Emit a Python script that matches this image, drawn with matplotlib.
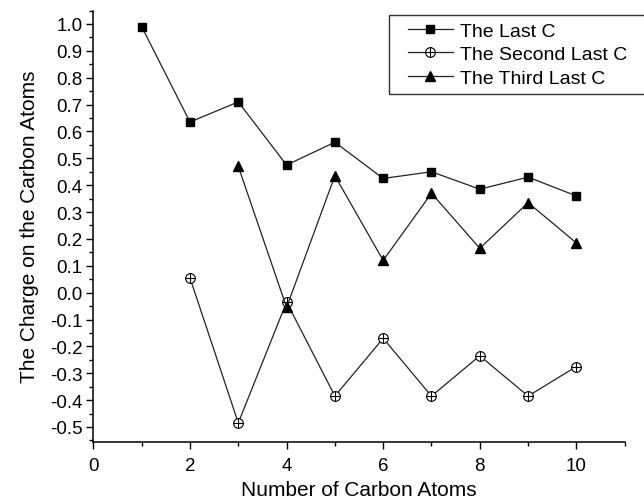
import matplotlib
matplotlib.use("Agg")

import numpy as np
import matplotlib.pyplot as plt
from matplotlib.path import Path
from matplotlib.patches import Rectangle
from matplotlib.ticker import MultipleLocator

plt.rcParams["font.family"] = ["Liberation Sans", "DejaVu Sans"]

# ── data ─────────────────────────────────────────────────────────────────────
n_last = [1, 2, 3, 4, 5, 6, 7, 8, 9, 10]
q_last = [0.99, 0.635, 0.71, 0.475, 0.56, 0.425, 0.45, 0.385, 0.43, 0.36]

n_second = [2, 3, 4, 5, 6, 7, 8, 9, 10]
q_second = [0.055, -0.485, -0.035, -0.385, -0.17, -0.385, -0.235, -0.385, -0.275]

n_third = [3, 4, 5, 6, 7, 8, 9, 10]
q_third = [0.47, -0.055, 0.435, 0.12, 0.37, 0.165, 0.335, 0.185]

labels = ["The Last C", "The Second Last C", "The Third Last C"]
yticks = [-0.5, -0.4, -0.3, -0.2, -0.1, 0.0, 0.1, 0.2, 0.3, 0.4, 0.5,
          0.6, 0.7, 0.8, 0.9, 1.0]

# circle with a plus inside
oplus = Path.make_compound_path(
    Path.unit_circle(),
    Path([[-1, 0], [1, 0]], [Path.MOVETO, Path.LINETO]),
    Path([[0, -1], [0, 1]], [Path.MOVETO, Path.LINETO]),
)

W, H = 644, 502
fig = plt.figure(figsize=(W / 100, H / 100), dpi=100)
ax = fig.add_axes([0.145, 0.118, 0.825, 0.859])

lc = "#222222"
ax.plot(n_last, q_last, color=lc, lw=0.9, marker="s", ms=6.2,
        mfc="black", mec="black", label=labels[0])
ax.plot(n_second, q_second, color=lc, lw=0.9, marker=oplus, ms=7,
        mfc="white", mec="black", mew=0.8, label=labels[1])
ax.plot(n_third, q_third, color=lc, lw=0.9, marker="^", ms=7,
        mfc="black", mec="black", label=labels[2])

ax.set_xlim(0, 11)
ax.set_ylim(-0.555, 1.05)
ax.xaxis.set_major_locator(MultipleLocator(2))
ax.xaxis.set_minor_locator(MultipleLocator(1))
ax.yaxis.set_minor_locator(MultipleLocator(0.05))
ax.set_yticks(yticks)
ax.set_yticklabels([f"{v:.1f}" for v in yticks])

ax.spines["top"].set_visible(False)
ax.spines["right"].set_visible(False)
for s in ("left", "bottom"):
    ax.spines[s].set_linewidth(1.1)
ax.tick_params(which="major", direction="out", length=5, width=1.0,
               labelsize=13.5, pad=3)
ax.tick_params(axis="x", which="major", pad=6)
ax.tick_params(which="minor", direction="out", length=3, width=1.0)

ax.set_xlabel("Number of Carbon Atoms", fontsize=15, labelpad=4)
ax.set_ylabel("The Charge on the Carbon Atoms", fontsize=15, labelpad=8)

leg = ax.legend(loc="upper left", bbox_to_anchor=(408 / W, 1 - 23 / H),
                bbox_transform=fig.transFigure, fontsize=14, frameon=False,
                handlelength=2.31, handletextpad=0.35, labelspacing=0.3,
                borderpad=0, borderaxespad=0)

# legend frame runs past the right edge of the figure, as in the original
fig.patches.append(Rectangle((389 / W, 1 - 95 / H), 320 / W, 79 / H,
                             transform=fig.transFigure, fill=False,
                             lw=1.0, ec="#333333"))

fig.savefig("out.png", dpi=100)
